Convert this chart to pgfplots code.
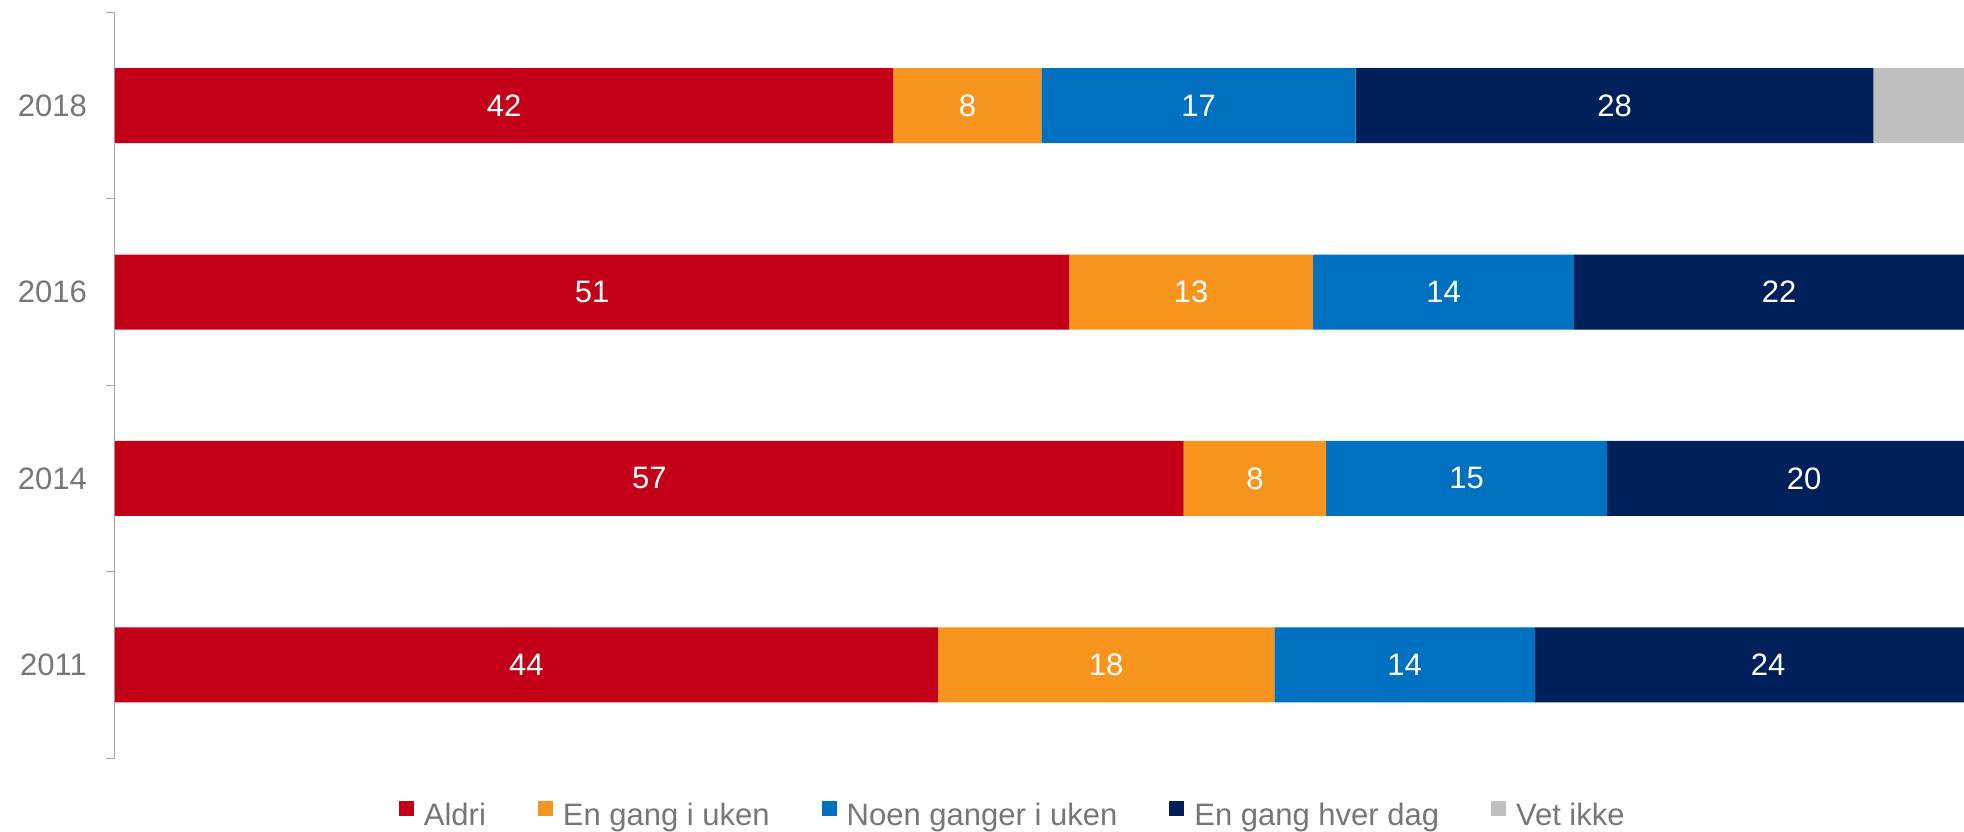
\documentclass[border=0pt]{standalone}
\usepackage{fontspec}
\setmainfont{Liberation Sans}
\usepackage{pgfplots}
\pgfplotsset{compat=1.18}
\usepackage{pgfplotstable}

\definecolor{cRed}{HTML}{C40018}
\definecolor{cOrange}{HTML}{F7941E}
\definecolor{cBlue}{HTML}{0070C0}
\definecolor{cNavy}{HTML}{00205B}
\definecolor{cGrey}{HTML}{BFBFBF}
\definecolor{txtGray}{HTML}{767676}
\definecolor{lineGray}{HTML}{A6A6A6}

% shares as drawn (unrounded) and the rounded labels
\pgfplotstableread{
y  a     b     c     d     e    la lb lc ld
0  44.5  18.2  14.1  25.2  0    44 18 14 24
1  57.8  7.7   15.2  21.3  0    57 8  15 20
2  51.6  13.2  14.1  22.2  0    51 13 14 22
3  42.1  8.0   17.0  28.0  4.9  42 8  17 28
}\data

\newcommand{\bigfont}{\fontsize{31}{37}\selectfont}

\pgfplotsset{
  seglabel/.style={
    point meta=explicit symbolic,
    nodes near coords={\pgfplotspointmeta},
    every node near coord/.append style={anchor=center,
      text=white, font=\bigfont, inner sep=0pt},
  },
}

\begin{document}
\begin{tikzpicture}
\useasboundingbox (-115pt,-73pt) rectangle (1849pt,758pt);
\begin{axis}[
    scale only axis,
    width=1849pt, height=745.5pt,
    xbar stacked,
    bar width=75pt,
    xmin=0, xmax=100,
    ymin=-0.5, ymax=3.5,
    axis x line=none,
    axis y line*=left,
    y axis line style={draw=lineGray, line width=1pt},
    ytick={0,1,2,3},
    yticklabels={2011,2014,2016,2018},
    minor ytick={-0.5,0.5,1.5,2.5,3.5},
    major tick length=0pt,
    minor tick length=9pt,
    tick align=outside,
    ytick style={draw=lineGray, line width=1pt},
    yticklabel style={font=\bigfont, text=txtGray, inner sep=0pt, xshift=-28pt},
    clip=false,
    legend columns=5,
    legend style={at={(0.485,-0.0751)}, anchor=center, draw=none, fill=none,
      font=\bigfont, text=txtGray, inner sep=0pt,
      nodes={inner sep=0pt},
      /tikz/every odd column/.append style={column sep=10pt},
      /tikz/every even column/.append style={column sep=52pt}},
    legend image code/.code={\fill[#1] (0pt,-1pt) rectangle (15pt,14pt);},
]
\addplot[fill=cRed, draw=none, seglabel] table[x=a, y=y, meta=la] {\data};
\addlegendentry{Aldri}
\addplot[fill=cOrange, draw=none, seglabel] table[x=b, y=y, meta=lb] {\data};
\addlegendentry{En gang i uken}
\addplot[fill=cBlue, draw=none, seglabel] table[x=c, y=y, meta=lc] {\data};
\addlegendentry{Noen ganger i uken}
\addplot[fill=cNavy, draw=none, seglabel] table[x=d, y=y, meta=ld] {\data};
\addlegendentry{En gang hver dag}
\addplot[fill=cGrey, draw=none] table[x=e, y=y] {\data};
\addlegendentry{Vet ikke}
\end{axis}
\end{tikzpicture}
\end{document}
